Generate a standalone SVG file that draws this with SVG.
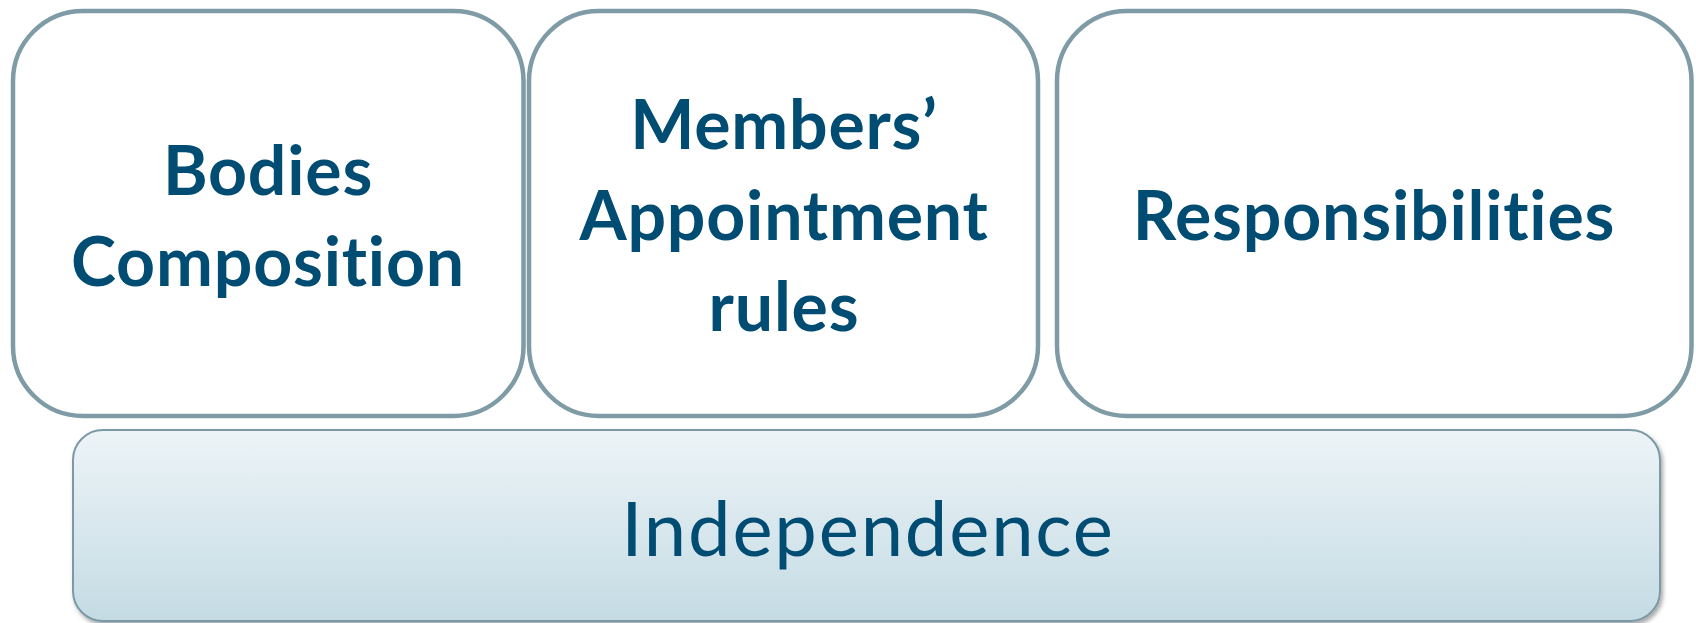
<svg xmlns="http://www.w3.org/2000/svg" width="1696" height="623" viewBox="0 0 1696 623">
  <style>
    .top { fill: #ffffff; stroke: #7f9ba6; stroke-width: 4.5; }
    .base { fill: url(#baseGrad); stroke: #7b99a5; stroke-width: 2; }
    .lbl { font-family: Lato, "Open Sans", sans-serif; font-weight: 700; font-size: 68px; letter-spacing: 0.8px; fill: #004c72; text-anchor: middle; font-variant-ligatures: none; font-feature-settings: "liga" 0, "clig" 0; }
    .lbl2 { font-family: Lato, "Open Sans", sans-serif; font-weight: 400; font-size: 76px; letter-spacing: 1.8px; fill: #004c72; text-anchor: middle; font-variant-ligatures: none; font-feature-settings: "liga" 0, "clig" 0; }
  </style>
  <defs>
    <linearGradient id="baseGrad" x1="0" y1="0" x2="0" y2="1">
      <stop offset="0" stop-color="#edf4f7"/>
      <stop offset="1" stop-color="#c4dbe4"/>
    </linearGradient>
    <filter id="shadow" x="-5%" y="-10%" width="110%" height="125%">
      <feDropShadow dx="2" dy="3" stdDeviation="2" flood-color="#000000" flood-opacity="0.35"/>
    </filter>
  </defs>
  <rect width="1696" height="623" fill="#ffffff"/>
  <g id="connectors"></g>
  <g id="node-independence">
    <rect class="base" x="73" y="430" width="1587" height="191" rx="30" ry="30" filter="url(#shadow)"/>
    <text class="lbl2" x="868" y="556">Independence</text>
  </g>
  <g id="node-bodies">
    <rect class="top" x="13" y="11" width="510.5" height="405" rx="70" ry="70"/>
    <text class="lbl" x="268" y="195">Bodies</text>
    <text class="lbl" x="268" y="286">Composition</text>
  </g>
  <g id="node-members">
    <rect class="top" x="529" y="11" width="509" height="405" rx="70" ry="70"/>
    <text class="lbl" x="784" y="149">Members’</text>
    <text class="lbl" x="784" y="240">Appointment</text>
    <text class="lbl" x="784" y="331">rules</text>
  </g>
  <g id="node-responsibilities">
    <rect class="top" x="1057" y="11" width="634.5" height="405" rx="70" ry="70"/>
    <text class="lbl" x="1374" y="240">Responsibilities</text>
  </g>
</svg>
